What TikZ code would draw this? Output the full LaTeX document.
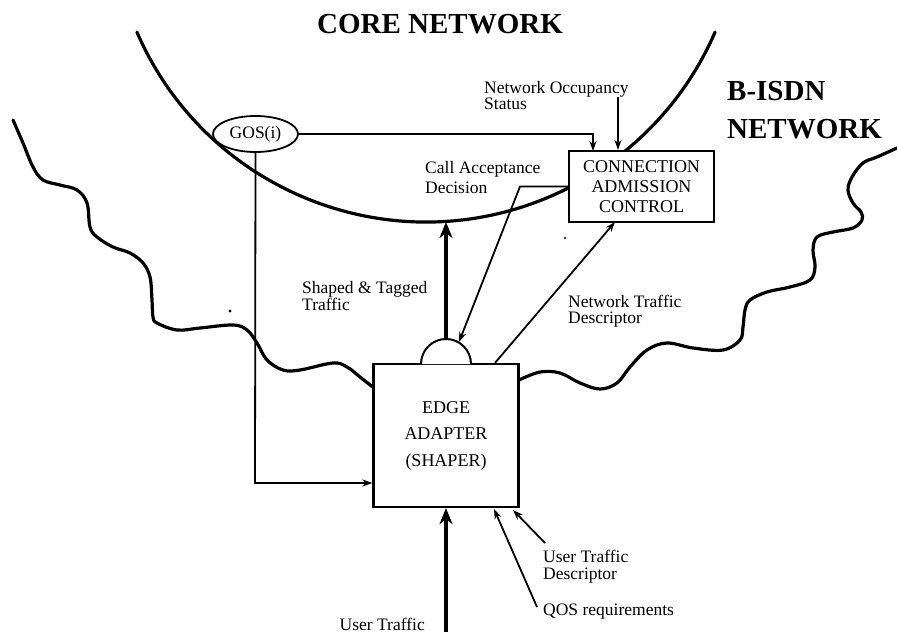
\documentclass[tikz,border=0pt]{standalone}
\usepackage{fontspec}
\setmainfont{Liberation Serif}
\usetikzlibrary{arrows.meta,shapes.geometric}
\begin{document}
\begin{tikzpicture}[x=1pt,y=-1pt,
  bigtitle/.style={font=\fontsize{29}{37}\selectfont\bfseries, inner sep=0, align=left},
  lbl/.style={font=\fontsize{17.5}{18}\selectfont, inner sep=0, align=left},
  boxtxt/.style={font=\fontsize{18}{20}\selectfont, align=center},
  blk/.style={draw, line width=2.2pt, fill=white},
  border/.style={line width=3.2pt, line cap=round, line join=round},
  thin arrow/.style={line width=1.8pt, -{Stealth[length=10pt,width=7pt]}},
  thick arrow/.style={line width=4pt, -{Stealth[length=16pt,width=13pt,inset=5pt]}}
]
\useasboundingbox (0,0) rectangle (897,632);

% core network boundary
\coordinate (corec) at (426,-93);
\draw[border] (corec) ++(156.6:315) arc[start angle=156.6, end angle=23.4, radius=315];

% B-ISDN wavy boundary, left part
\draw[border] plot[smooth, tension=0.6] coordinates {
 (13,120) (23,143) (33,167) (43,180) (60,185) (77,190) (87,203) (90,227) (97,237)
 (113,247) (130,253) (143,263) (150,277) (152,300) (153,317) (157,323) (177,330)
 (200,328) (233,325) (247,330) (257,343) (267,360) (283,370) (300,370) (333,363)
 (347,367) (360,377) (374,388)};
% right part
\draw[border] plot[smooth, tension=0.6] coordinates {
 (519,380) (540,372) (560,373) (580,383) (600,389) (617,383) (630,367) (647,350)
 (667,343) (693,348) (723,350) (740,340) (743,327) (745,310) (750,300) (767,292)
 (790,287) (810,280) (815,267) (813,250) (817,237) (833,232) (853,228) (862,220)
 (861,212) (853,203) (848,190) (852,177) (863,163) (877,157) (897,148)};

% nodes
\node[blk, minimum width=145pt, minimum height=71pt, boxtxt] (cac) at (641.5,186.5)
  {CONNECTION\\ADMISSION\\CONTROL};
\node[blk, minimum width=145pt, minimum height=143pt, boxtxt,
  font=\fontsize{18}{26.5}\selectfont] (edge) at (446,435.5)
  {EDGE\\ADAPTER\\(SHAPER)};
\node[draw, ellipse, line width=1.8pt, fill=white, minimum width=85pt, minimum height=36pt,
  inner sep=0, font=\fontsize{17.5}{18}\selectfont] (gos) at (255.5,134) {GOS(i)};

% semicircle on top of edge adapter
\draw[line width=2pt, fill=white] (421,364) arc[start angle=180, end angle=360, radius=25];
\coordinate (semitop) at (446,339);
\coordinate (cadtip) at (459,342);

% titles
\node[bigtitle, anchor=base] (core) at (440,33) {CORE NETWORK};
\node[bigtitle, anchor=base west] (bisdn1) at (727,100) {B-ISDN};
\node[bigtitle, anchor=base west] (bisdn2) at (727,138) {NETWORK};

% labels
\node[lbl, anchor=base west] (nos1) at (484,93) {Network Occupancy};
\node[lbl, anchor=base west] (nos2) at (484,109) {Status};
\node[lbl, anchor=base west] (cad1) at (425,173) {Call Acceptance};
\node[lbl, anchor=base west] (cad2) at (425,193) {Decision};
\node[lbl, anchor=base west] (stt1) at (302,293) {Shaped \& Tagged};
\node[lbl, anchor=base west] (stt2) at (302,310) {Traffic};
\node[lbl, anchor=base west] (ntd1) at (568,307) {Network Traffic};
\node[lbl, anchor=base west] (ntd2) at (568,323) {Descriptor};
\node[lbl, anchor=base west] (utd1) at (543,562) {User Traffic};
\node[lbl, anchor=base west] (utd2) at (543,579) {Descriptor};
\node[lbl, anchor=base west] (qos) at (543,615) {QOS requirements};
\node[lbl, anchor=base east] (ut) at (425,630) {User Traffic};

% connectors
\coordinate (nostop) at (618,97);
\draw[thin arrow] (nostop) -- (nostop |- cac.north);
\draw[thin arrow] (gos.east) -- (593,134) -- (593,151);
\draw[thin arrow] (gos.south) -- (255,483) -- (edge.west |- 0,483);
\draw[thin arrow] (cac.west) -- (520,186.5) -- (cadtip);
\draw[thin arrow] (edge.north -| 495,0) -- (615,222);
\coordinate (arctip) at (446,222);
\draw[thick arrow] (semitop) -- (arctip);
\coordinate (bottom) at (446,632);
\draw[thick arrow] (bottom) -- (edge.south);
\coordinate (utdstart) at (545,543);
\draw[thin arrow] (utdstart) -- (513,510);
\coordinate (qosstart) at (537,607);
\draw[thin arrow] (qosstart) -- (494,509);

% scan specks
\fill (230,311) circle (1.6);
\fill (565,238) circle (1.2);
\end{tikzpicture}
\end{document}
